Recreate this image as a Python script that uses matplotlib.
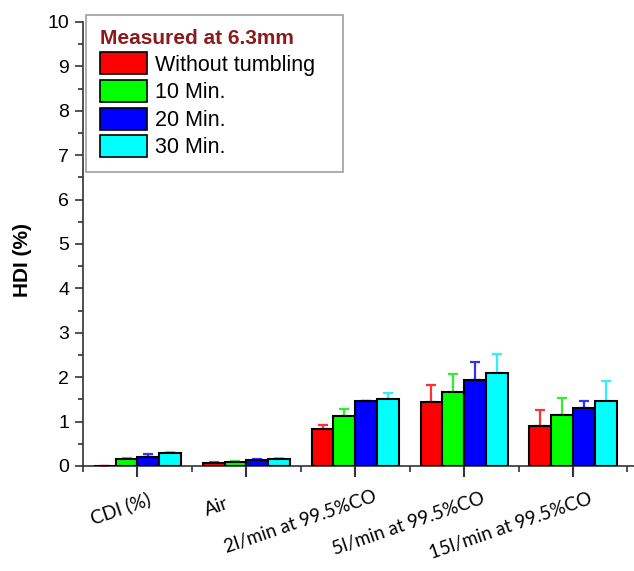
import matplotlib
matplotlib.use("Agg")
import matplotlib.pyplot as plt
import matplotlib.transforms as mtransforms
from matplotlib.patches import Patch
import numpy as np

categories = ["CDI (%)", "Air", "2l/min at 99.5%CO", "5l/min at 99.5%CO", "15l/min at 99.5%CO"]
series_names = ["Without tumbling", "10 Min.", "20 Min.", "30 Min."]
colors = ["#ff0000", "#00ff00", "#0000ff", "#00ffff"]
err_colors = ["#ff3030", "#30ee30", "#3030ff", "#30eeff"]

without_tumbling = [0.0, 0.07, 0.84, 1.45, 0.90]
min10 = [0.16, 0.10, 1.12, 1.67, 1.14]
min20 = [0.21, 0.13, 1.47, 1.94, 1.31]
min30 = [0.30, 0.16, 1.52, 2.09, 1.47]

err_without = [0.0, 0.01, 0.09, 0.37, 0.37]
err_10 = [0.01, 0.01, 0.16, 0.41, 0.39]
err_20 = [0.05, 0.03, 0.0, 0.40, 0.16]
err_30 = [0.02, 0.02, 0.12, 0.44, 0.44]

values = [without_tumbling, min10, min20, min30]
errors = [err_without, err_10, err_20, err_30]

plt.rcParams['font.family'] = ['Liberation Sans', 'DejaVu Sans']

fig = plt.figure(figsize=(6.34, 5.71), dpi=100)
ax = fig.add_axes([83/634, 1 - 466/571, 1 - 83/634, (466 - 22)/571])

x = np.arange(len(categories))
w = 0.2
for i, (vals, errs) in enumerate(zip(values, errors)):
    pos = x + (i - 1.5) * w
    ax.bar(pos, vals, width=w, color=colors[i], edgecolor="black", linewidth=1.5, zorder=3)
    ax.errorbar(pos, vals, yerr=[np.zeros(len(errs)), errs], fmt="none",
                ecolor=err_colors[i], elinewidth=1.6, capsize=3.6, capthick=1.6, zorder=2)

ax.set_xlim(-0.5, 4.56)
ax.set_ylim(0, 10)
ax.set_yticks(range(0, 11))
ax.set_yticks(np.arange(0.5, 10, 1), minor=True)
ax.set_xticks(x)
ax.set_xticks(np.arange(-0.5, 4.6, 1), minor=True)

ax.spines["top"].set_visible(False)
ax.spines["right"].set_visible(False)
for s in ["left", "bottom"]:
    ax.spines[s].set_linewidth(1.2)
    ax.spines[s].set_color("#333333")

ax.tick_params(axis="y", which="major", direction="out", length=6, width=1.2, labelsize=14, pad=4, color="#333333")
ax.tick_params(axis="y", which="minor", direction="out", length=3.5, width=1.2, color="#333333")
ax.tick_params(axis="x", which="major", direction="out", length=8, width=1.5, color="#333333")
ax.tick_params(axis="x", which="minor", direction="out", length=4, width=1.2, color="#333333")

ax.set_xticklabels(categories, rotation=19, ha="right", va="top", rotation_mode="anchor",
                   fontsize=13.5, family=["Lato", "DejaVu Sans"])
dxs = [10, -21, 18, 17, 16]
dys = [-8, -13, -6, -8, -8]
for lab, dx, dy in zip(ax.get_xticklabels(), dxs, dys):
    off = mtransforms.ScaledTranslation(dx/100, dy/100, fig.dpi_scale_trans)
    lab.set_transform(lab.get_transform() + off)

ax.set_ylabel("HDI (%)", fontsize=15, fontweight="bold")
ax.yaxis.set_label_coords(-0.093, 0.464)

handles = [Patch(facecolor=c, edgecolor="black", linewidth=1.2) for c in colors]
leg = ax.legend(handles, series_names, title="Measured at 6.3mm", loc="upper left",
                bbox_to_anchor=(3/551, 1 + 7/444, (343 - 86)/551, 0.0), mode="expand",
                fontsize=15.5, title_fontsize=15,
                handlelength=2.2, handleheight=1.2, handletextpad=0.35, labelspacing=0.2,
                borderpad=0.65, borderaxespad=0, frameon=True, fancybox=False, alignment="left")
leg.get_frame().set_edgecolor("#888888")
leg.get_frame().set_linewidth(1.2)
leg.get_title().set_color("#8b1a1a")
leg.get_title().set_fontweight("bold")

fig.savefig("out.png", dpi=100)
